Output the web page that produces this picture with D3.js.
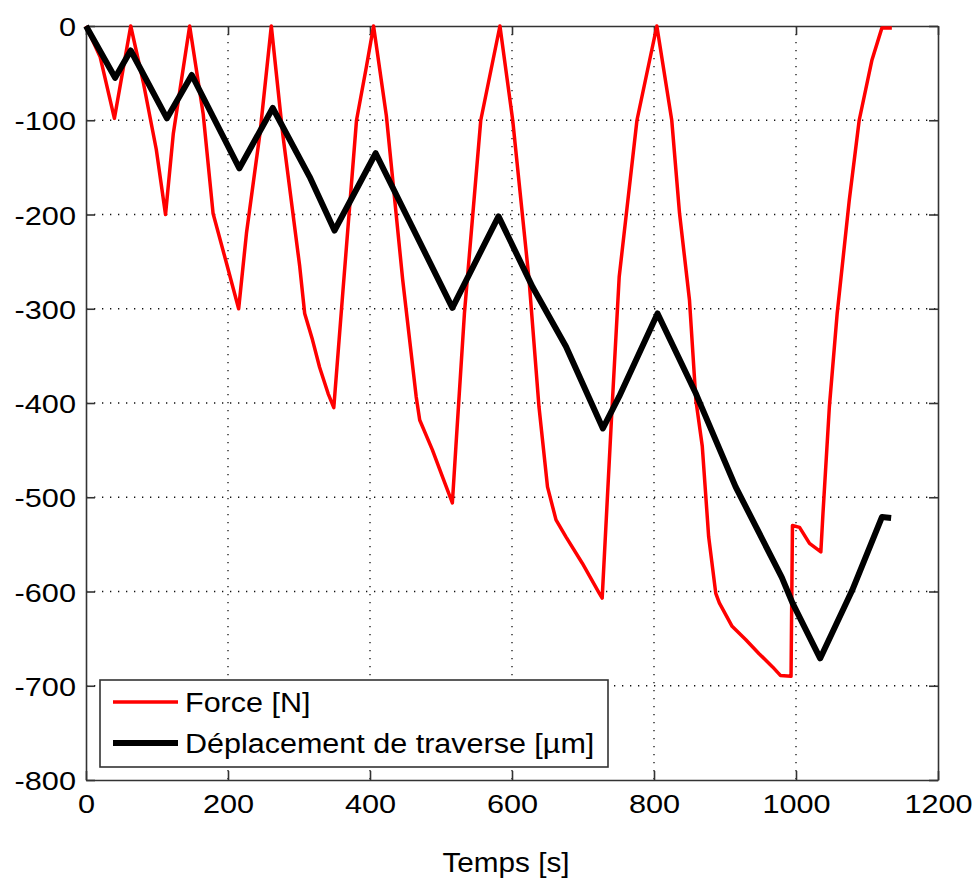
<!DOCTYPE html>
<html>
<head>
<meta charset="utf-8">
<script src="https://cdn.jsdelivr.net/npm/d3@7"></script>
<style>
  body { margin: 0; background: #fff; }
  svg text { font-family: "Liberation Sans", Arial, Helvetica, sans-serif; }
</style>
</head>
<body>
<svg id="chart" width="976" height="881"></svg>
<script>
const xTicks = [0, 200, 400, 600, 800, 1000, 1200];
const yTicks = [0, -100, -200, -300, -400, -500, -600, -700, -800];
const xLabel = "Temps [s]";
const seriesNames = ["Force [N]", "Déplacement de traverse [µm]"];

const forceTime = [0, 20, 40, 63, 81, 99, 112, 123, 146, 165, 179, 198, 215, 226, 245, 261, 277, 301, 308, 319, 329, 341, 349, 362, 381, 395, 405, 423, 446, 465, 470, 488, 502, 516, 521, 533, 556, 583, 601, 624, 638, 650, 662, 676, 699, 723, 727, 741, 751, 776, 804, 825, 836, 850, 859, 868, 877, 887, 892, 910, 929, 948, 967, 978, 993, 995, 1005, 1019, 1035, 1038, 1047, 1058, 1075, 1089, 1107, 1121, 1135];
const forceValue = [0, -33, -98, 0, -61, -131, -200, -114, 0, -93, -199, -252, -300, -220, -114, 0, -114, -255, -305, -333, -362, -390, -405, -280, -100, -43, 0, -95, -269, -393, -418, -450, -478, -506, -446, -305, -100, 0, -100, -269, -404, -489, -524, -542, -570, -602, -607, -404, -266, -100, 0, -100, -199, -291, -397, -446, -542, -602, -612, -637, -651, -666, -680, -689, -690, -530, -532, -549, -558, -517, -404, -305, -185, -100, -36, -2, -2];

const dispTime = [0, 41, 63, 114, 149, 216, 263, 315, 350, 408, 516, 581, 629, 676, 728, 751, 805, 859, 915, 980, 995, 1034, 1079, 1121, 1134];
const dispValue = [0, -55, -26, -98, -52, -151, -87, -160, -217, -135, -299, -202, -277, -340, -427, -393, -305, -390, -489, -585, -612, -671, -599, -521, -522];

const svg = d3.select("#chart");
const pL = 86, pR = 938, pT = 26, pB = 780;
const x = d3.scaleLinear().domain([0, 1200]).range([pL, pR]);
const y = d3.scaleLinear().domain([-800, 0]).range([pB, pT]);

function stretch(sel, k) {
  sel.each(function () {
    const w = this.getComputedTextLength();
    if (w > 0) d3.select(this).attr("textLength", w * k).attr("lengthAdjust", "spacingAndGlyphs");
  });
}

// grid
const grid = svg.append("g");
xTicks.slice(1, -1).forEach(t => {
  grid.append("line").attr("x1", x(t)).attr("x2", x(t)).attr("y1", pT).attr("y2", pB)
    .attr("stroke", "#111").attr("stroke-width", 1.3).attr("stroke-dasharray", "1.3,6.7");
});
yTicks.slice(1, -1).forEach(t => {
  grid.append("line").attr("x1", pL).attr("x2", pR).attr("y1", y(t)).attr("y2", y(t))
    .attr("stroke", "#111").attr("stroke-width", 1.3).attr("stroke-dasharray", "1.3,6.7");
});

// axes with inward ticks
const axStyle = g => {
  g.selectAll("path").attr("stroke", "#333").attr("stroke-width", 1.6);
  g.selectAll("line").attr("stroke", "#333").attr("stroke-width", 1.6);
  g.selectAll("text").attr("font-size", 26).attr("fill", "#000");
};
const xb = svg.append("g").attr("transform", `translate(0,${pB})`)
  .call(d3.axisBottom(x).tickValues(xTicks).tickSizeInner(-9).tickSizeOuter(0).tickPadding(0).tickFormat(d3.format("d")))
  .call(axStyle);
xb.selectAll("text").attr("dy", null).attr("y", 33);
stretch(xb.selectAll("text"), 1.18);
svg.append("g").attr("transform", `translate(0,${pT})`)
  .call(d3.axisTop(x).tickValues(xTicks).tickSizeInner(-9).tickSizeOuter(0).tickFormat(""))
  .call(axStyle);
const yl = svg.append("g").attr("transform", `translate(${pL},0)`)
  .call(d3.axisLeft(y).tickValues(yTicks).tickSizeInner(-9).tickSizeOuter(0).tickPadding(0).tickFormat(d => d3.format("d")(d).replace("−", "-")))
  .call(axStyle);
yl.selectAll("text").attr("x", -10).attr("dy", null).attr("y", 9.5);
stretch(yl.selectAll("text"), 1.18);
svg.append("g").attr("transform", `translate(${pR},0)`)
  .call(d3.axisRight(y).tickValues(yTicks).tickSizeInner(-9).tickSizeOuter(0).tickFormat(""))
  .call(axStyle);

// lines
const forceData = forceTime.map((t, i) => [t, forceValue[i]]);
const dispData = dispTime.map((t, i) => [t, dispValue[i]]);
const line = d3.line().x(d => x(d[0])).y(d => y(d[1]));

svg.append("path").datum(forceData).attr("d", line)
  .attr("fill", "none").attr("stroke", "#ff0000").attr("stroke-width", 3.5).attr("stroke-linejoin", "round");
svg.append("path").datum(dispData).attr("d", line)
  .attr("fill", "none").attr("stroke", "#000").attr("stroke-width", 6).attr("stroke-linejoin", "round");

// x label
const xl = svg.append("text").attr("x", 506).attr("y", 872).attr("text-anchor", "middle")
  .attr("font-size", 27).text(xLabel);
stretch(xl, 1.1);

// legend
const lg = svg.append("g");
lg.append("rect").attr("x", 100).attr("y", 680).attr("width", 508).attr("height", 87)
  .attr("fill", "#fff").attr("stroke", "#333").attr("stroke-width", 1.6);
const colors = ["#ff0000", "#000"];
const widths = [3.5, 6];
seriesNames.forEach((n, i) => {
  const yy = 702 + i * 41;
  lg.append("line").attr("x1", 113).attr("x2", 178).attr("y1", yy).attr("y2", yy)
    .attr("stroke", colors[i]).attr("stroke-width", widths[i]);
  const t = lg.append("text").attr("x", 185).attr("y", yy + 10).attr("font-size", 27).text(n);
  stretch(t, 1.13);
});
</script>
</body>
</html>
